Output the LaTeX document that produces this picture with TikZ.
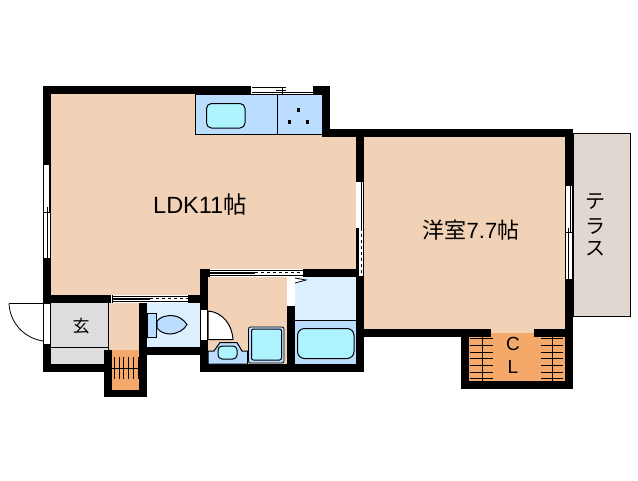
\documentclass[tikz,border=0pt]{standalone}
\usepackage{fontspec}
\setmainfont{Liberation Sans}
\newfontfamily\jpfont{Noto Sans CJK JP}
\definecolor{floorc}{HTML}{F2D2B6}
\definecolor{pale}{HTML}{DDF0FF}
\definecolor{fixt}{HTML}{BBDDFF}
\definecolor{tubc}{HTML}{AEF4FF}
\definecolor{stairc}{HTML}{F4A96B}
\definecolor{hallc}{HTML}{DDDDE0}
\definecolor{terr}{HTML}{E0D8D0}
\tikzset{
 wall/.style={fill=black,draw=none},
 flr/.style={fill=floorc,draw=none},
 winw/.style={fill=white,draw=none},
 ln/.style={draw=black,line width=1pt},
 tln/.style={draw=black,line width=.8pt},
 lbl/.style={inner sep=0pt,font=\fontsize{23.5}{23.5}\selectfont},
}
\begin{document}
\begin{tikzpicture}[x=1pt,y=-1pt]
\useasboundingbox (0,0) rectangle (638,480);
% terrace
\filldraw[fill=terr,tln] (573,133.5) rectangle (630,316.5);
% floors
\fill[flr] (51,94) rectangle (322,137);
\fill[flr] (51,137) rectangle (356,295);
\fill[flr] (356,137) rectangle (565,333);
\fill[flr] (208,277) rectangle (287,364);
\fill[flr] (109,303) rectangle (139,350);
\fill[pale] (295,277) rectangle (356,320);
\fill[fixt] (295,320) rectangle (356,364);
\fill[pale] (147,303) rectangle (200,347);
\fill[hallc] (51,303) rectangle (109,364);
\fill[stairc] (112,350) rectangle (139,390);
\fill[stairc] (491,333) rectangle (534,337);
\fill[stairc] (469,337) rectangle (565,381);
% walls
\fill[wall] (43,86) rectangle (330,94);
\fill[wall] (43,86) rectangle (51,303);
\fill[wall] (43,344) rectangle (51,372);
\fill[wall] (43,295) rectangle (111,303);
\fill[wall] (43,364) rectangle (112,372);
\fill[wall] (104,350) rectangle (112,397);
\fill[wall] (104,390) rectangle (147,397);
\fill[wall] (139,295) rectangle (147,397);
\fill[wall] (139,295) rectangle (208,303);
\fill[wall] (147,347) rectangle (208,355);
\fill[wall] (200,269) rectangle (208,372);
\fill[wall] (200,269) rectangle (364,277);
\fill[wall] (200,364) rectangle (364,372);
\fill[wall] (287,277) rectangle (295,364);
\fill[wall] (322,86) rectangle (330,137);
\fill[wall] (322,129) rectangle (573,137);
\fill[wall] (356,129) rectangle (364,372);
\fill[wall] (356,329) rectangle (491,337);
\fill[wall] (534,329) rectangle (573,337);
\fill[wall] (565,129) rectangle (573,389);
\fill[wall] (461,329) rectangle (469,389);
\fill[wall] (461,381) rectangle (573,389);
% left window
\fill[winw] (43,165) rectangle (51,258);
\draw[ln] (43.5,165) -- (43.5,258) (50.5,165) -- (50.5,258) (49,165) -- (49,212) (47,207) -- (47,258) (43,212) -- (51,212);
% top window
\fill[winw] (251,86) rectangle (313,94);
\draw[ln] (252,87.5) -- (286,87.5) (252,92.5) -- (313,92.5) (282.7,87) -- (282.7,94) (276,90) -- (286,90);
% right window
\fill[winw] (565,186) rectangle (573,279);
\draw[ln] (565.5,186) -- (565.5,279) (572.5,186) -- (572.5,279) (568.5,228) -- (568.5,279) (570,186) -- (570,232) (565,232.5) -- (573,232.5);
% central window
\fill[winw] (356,182) rectangle (364,276);
\fill[wall] (356,228) rectangle (358.5,276);
\draw[ln] (361.5,182) -- (361.5,228);
\draw[ln,dash pattern=on 3pt off 3pt] (361.5,228) -- (361.5,276);
\draw[ln] (363.5,182) -- (363.5,276);
% LDK sill window
\fill[winw] (111,295) rectangle (188,303);
\draw[ln] (112,296) -- (188,296) (112,301.5) -- (188,301.5) (112,295) -- (112,303);
\fill[wall] (112,297.5) rectangle (150,300);
\draw[ln,dash pattern=on 3pt off 3pt] (150,298.5) -- (188,298.5);
% wash sill window
\fill[winw] (209,269) rectangle (303,277);
\draw[ln] (209,270) -- (303,270) (209,275.5) -- (303,275.5) (209,269) -- (209,277);
\fill[wall] (209,271.5) rectangle (255,274);
\draw[ln,dash pattern=on 3pt off 3pt] (255,272.5) -- (303,272.5);
% entry door
\fill[winw] (43,303) rectangle (51,344);
\draw[ln] (43,303.5) -- (51,303.5);
\draw[ln] (50.5,303) -- (50.5,344) (43.5,303) -- (43.5,344);
\draw[tln] (9,303.5) -- (43,303.5);
\draw[tln] (9,303.5) .. controls (10,323) and (24,338) .. (43,341);
% entry
\draw[tln] (51,347) -- (108.5,347) (108.5,303) -- (108.5,350);
\node[inner sep=0pt,font=\jpfont\fontsize{17}{17}\selectfont] (gen) at (81,326) {玄};
% stairs
\draw[ln] (112,368) -- (139,368);
\foreach \x in {114,119,123.5,128,133,138} \draw[ln] (\x,357) -- (\x,379);
% toilet
\filldraw[fill=fixt,ln] (147,313.5) rectangle (156.5,337);
\filldraw[fill=fixt,ln] (157,321) .. controls (160,317) and (166,315.5) .. (172,315.5) .. controls (179,316) and (184,320) .. (187,324.5) .. controls (184,330) and (178,333.5) .. (170,334) .. controls (165,334) and (160,332) .. (157,328) -- cycle;
% door between toilet and wash room
\fill[winw] (200,309) rectangle (208,339.5);
\draw[ln] (200,309) -- (208,309) (200.5,309) -- (200.5,339.5);
\draw[ln] (207.5,309) -- (207.5,339.5);
\filldraw[fill=white,ln] (208,339.5) -- (208,311) .. controls (222,312) and (232,324) .. (233,339.5) -- cycle;
% wash basin
\filldraw[fill=fixt,ln] (208,351) -- (214,351) -- (220,342.5) -- (237,342.5) -- (242,351) -- (247.5,351) -- (247.5,364) -- (208,364) -- cycle;
\filldraw[fill=tubc,ln,rounded corners=4pt] (218,346) rectangle (237,359);
% washer
\filldraw[fill=fixt,tln,rounded corners=2pt] (248.5,327) rectangle (284,363);
\filldraw[fill=tubc,ln,rounded corners=2pt] (251.5,329) rectangle (281.5,360);
% bath
\draw[tln] (295,320) -- (356,320);
\filldraw[fill=tubc,ln,rounded corners=7pt] (297.5,328.5) rectangle (354,358.5);
\fill[winw] (287,277) rectangle (295,306);
\fill[winw] (295,278) -- (306,280) -- (295,283) -- cycle;
\draw[tln] (295,278) -- (306,280) -- (295,283);
% kitchen
\filldraw[fill=fixt,tln] (195,94) rectangle (322,134);
\draw[tln] (277.5,94) -- (277.5,134);
\filldraw[fill=tubc,ln,rounded corners=5pt] (206.5,103.5) rectangle (245,128);
\fill[black] (296.5,108) rectangle (300,111.5);
\fill[black] (287.5,120) rectangle (291,123.5);
\fill[black] (305.5,120) rectangle (309,123.5);
% closet shelves
\foreach \y in {338,345,352,358,365,372,378} {\draw[tln] (470,\y) -- (493,\y);\draw[tln] (541,\y) -- (563,\y);}
\draw[tln] (482,337) -- (482,381) (552,337) -- (552,381);
% labels
\node[lbl] (ldk) at (200,205) {LDK11\jpfont 帖};
\node[lbl,font=\fontsize{22}{22}\selectfont] (yo) at (471,230) {\jpfont 洋室\rmfamily 7.7\jpfont 帖};
\node[lbl,font=\jpfont\fontsize{20}{20}\selectfont] (te) at (595,202) {テ};
\node[lbl,font=\jpfont\fontsize{20}{20}\selectfont] (ra) at (595,226) {ラ};
\node[lbl,font=\jpfont\fontsize{20}{20}\selectfont] (su) at (595,249) {ス};
\node[lbl,font=\fontsize{19}{19}\selectfont] (c) at (513,344) {C};
\node[lbl,font=\fontsize{19}{19}\selectfont] (l) at (513,367) {L};
\end{tikzpicture}
\end{document}
